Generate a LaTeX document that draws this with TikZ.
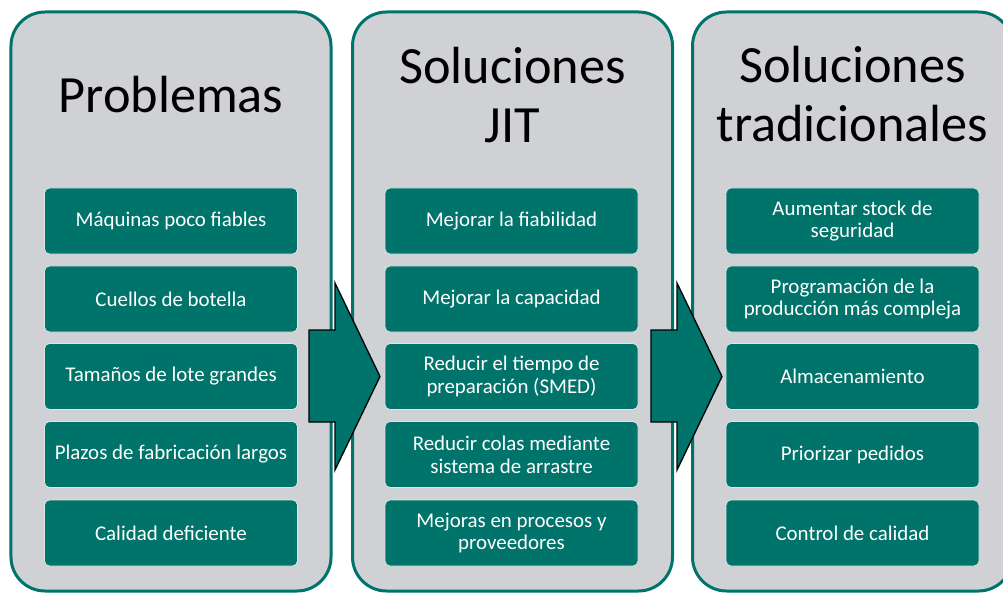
\documentclass[tikz,border=0pt]{standalone}
\usepackage{fontspec}
\setmainfont{Carlito}
\definecolor{teal1}{RGB}{0,115,106}
\definecolor{panelgray}{RGB}{208,209,213}
\definecolor{itemedge}{RGB}{222,230,228}
\begin{document}
\begin{tikzpicture}[x=1bp,y=-1bp,
  panel/.style={draw=teal1, line width=3bp, fill=panelgray, rounded corners=34bp,
    minimum width=320bp, minimum height=579bp, inner sep=0pt},
  item/.style={fill=teal1, draw=itemedge, line width=0.8bp, rounded corners=5bp,
    minimum width=253bp, minimum height=66bp, inner sep=0pt, text=white, align=center,
    font=\fontsize{21}{23}\selectfont},
  title/.style={font=\fontsize{52.5}{60}\selectfont, align=center, text=black, inner sep=0pt},
  blockarrow/.style={fill=teal1, draw=black, line width=1.3bp, line join=miter}]
\useasboundingbox (0,0) rectangle (1003,595);
\clip (0,0) rectangle (1003,595);
% panels
\node[panel] (p1) at (171,301.5) {};
\node[panel] (p2) at (512.5,301.5) {};
\node[panel] (p3) at (852.5,301.5) {};
% titles
\node[title, anchor=base] (t1) at (171,113) {Problemas};
\node[title, anchor=base] (t2) at (512.5,143) {Soluciones\\JIT};
\node[title, anchor=base] (t3) at (852.5,142) {Soluciones\\tradicionales};
% items column 1
\node[item] (a1) at (171,221) {Máquinas poco fiables};
\node[item] (a2) at (171,299) {Cuellos de botella};
\node[item] (a3) at (171,376.5) {Tamaños de lote grandes};
\node[item] (a4) at (171,454.5) {Plazos de fabricación largos};
\node[item] (a5) at (171,533) {Calidad deficiente};
% items column 2
\node[item] (b1) at (511.5,221) {Mejorar la fiabilidad};
\node[item] (b2) at (511.5,299) {Mejorar la capacidad};
\node[item] (b3) at (511.5,376.5) {Reducir el tiempo de\\preparación (SMED)};
\node[item] (b4) at (511.5,454.5) {Reducir colas mediante\\sistema de arrastre};
\node[item] (b5) at (511.5,533) {Mejoras en procesos y\\proveedores};
% items column 3
\node[item] (c1) at (852.5,221) {Aumentar stock de\\seguridad};
\node[item] (c2) at (852.5,299) {Programación de la\\producción más compleja};
\node[item] (c3) at (852.5,376.5) {Almacenamiento};
\node[item] (c4) at (852.5,454.5) {Priorizar pedidos};
\node[item] (c5) at (852.5,533) {Control de calidad};
% block arrows
\path[blockarrow] (309,330) -- (335,330) -- (335,283) -- (380,376.5) -- (335,470) -- (335,422) -- (309,422) -- cycle;
\path[blockarrow] (651,330) -- (677,330) -- (677,283) -- (722,376.5) -- (677,470) -- (677,422) -- (651,422) -- cycle;
\end{tikzpicture}
\end{document}
